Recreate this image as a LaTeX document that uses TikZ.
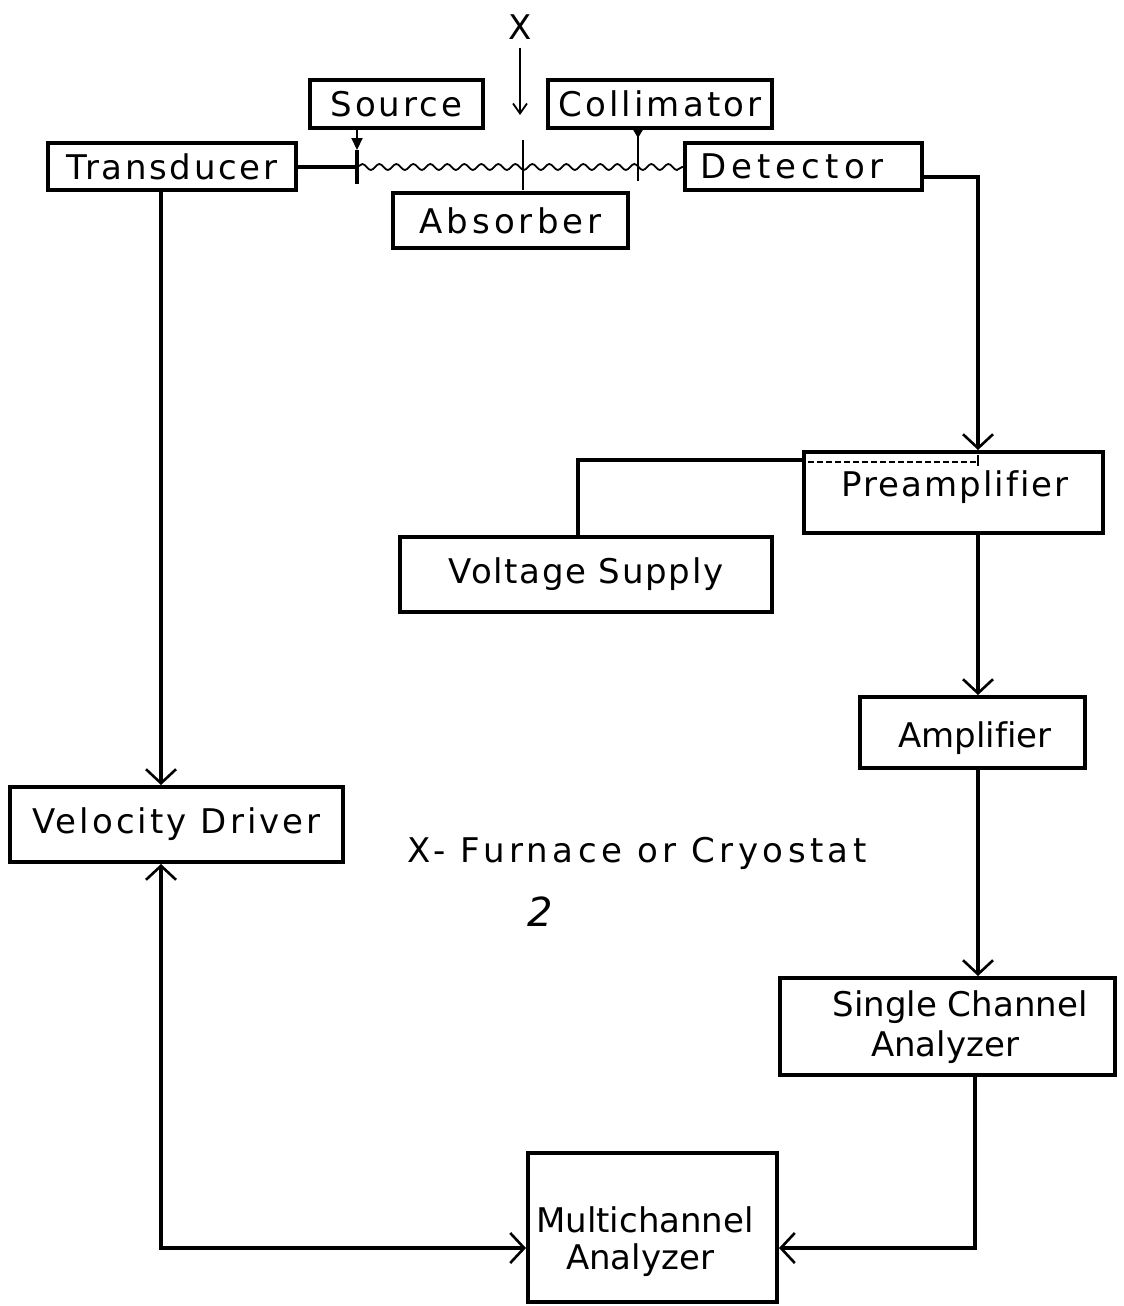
\documentclass[tikz,border=0pt]{standalone}
\usepackage{fontspec}
\setmainfont{DejaVu Sans}[Ligatures={NoCommon}]
\newcommand{\lsp}[1]{\addfontfeature{LetterSpace=#1}}
\usetikzlibrary{arrows.meta,decorations.pathmorphing,calc}
\begin{document}
\begin{tikzpicture}[x=1pt,y=-1pt,
  lbl/.style={font=\fontsize{34}{40}\selectfont, inner sep=0pt},
  box/.style={draw, line width=4pt, inner sep=0pt, font=\fontsize{34}{40}\selectfont, align=center},
  conn/.style={line width=4pt},
  tip/.style={-{Straight Barb[length=14pt,width=30pt,line width=2.6pt]}},
  dtip/.style={{Straight Barb[length=14pt,width=30pt,line width=2.6pt]}-{Straight Barb[length=14pt,width=30pt,line width=2.6pt]}}
]
\useasboundingbox (0,0) rectangle (1124,1306);
% boxes
\node[box, minimum width=248pt, minimum height=47pt] (tr) at (172,166.5) {\lsp{8}Transducer};
\node[box, minimum width=173pt, minimum height=48pt] (src) at (396.5,104) {\lsp{9}Source};
\node[box, minimum width=224pt, minimum height=48pt] (col) at (660,104) {\lsp{9}Collimator};
\node[box, minimum width=237pt, minimum height=47pt] (det) at (803.5,166.5) {};
\node[lbl] (dett) at (792,166) {\lsp{15}Detector};
\node[box, minimum width=235pt, minimum height=55pt] (abs) at (510.5,220.5) {\lsp{12}Absorber};
\node[box, minimum width=299pt, minimum height=81pt] (pre) at (953.5,492.5) {};
\node[lbl] (pret) at (955,487) {\lsp{6}Preamplifier};
\node[box, minimum width=372pt, minimum height=75pt] (vs) at (586,574.5) {\lsp{5}Voltage Supply};
\node[box, minimum width=225pt, minimum height=71pt] (amp) at (972.5,732.5) {};
\node[lbl] (ampt) at (975,738) {Amplifier};
\node[box, minimum width=335pt, minimum height=97pt] (sca) at (947.5,1026.5) {};
\node[lbl] (scat1) at (960,1007) {Single Channel};
\node[lbl] (scat2) at (945,1047) {Analyzer};
\node[box, minimum width=333pt, minimum height=75pt] (vd) at (176.5,824.5) {\lsp{9}Velocity Driver};
\node[box, minimum width=249pt, minimum height=149pt] (mca) at (652.5,1227.5) {};
\node[lbl] (mcat1) at (645,1220) {Multichannel};
\node[lbl] (mcat2) at (640,1260) {Analyzer};
% free texts
\node[lbl] (xlab) at (520,27) {X};
\node[lbl] (furn) at (637,853) {\lsp{13}X- Furnace or Cryostat};
\node[font=\fontsize{40}{40}\selectfont\itshape, inner sep=0pt] (pg) at (540,912) {2};
% helper coordinates
\coordinate (lx) at (161,0);
\coordinate (rx) at (978,0);
\coordinate (sx) at (357,0);
\coordinate (kx) at (638,0);
\coordinate (bm) at (0,167);
\coordinate (by) at (0,1248);
% X arrow
\draw[line width=1.8pt, -{Straight Barb[length=10pt,width=14pt,line width=1.8pt]}] (xlab.south) ++(0,8) -- (520,115);
% beam
\draw[conn] (tr.east |- bm) -- (sx |- bm);
\draw[line width=1.8pt, decorate, decoration={snake, amplitude=3pt, segment length=17pt}] (sx |- bm) -- (det.west |- bm);
\draw[line width=4pt] (357,150) -- (357,184);
\draw[line width=2.2pt, -{Triangle[length=12pt,width=11pt]}] (src.south -| sx) -- (357,150);
\draw[line width=2.2pt] (523,140) -- (523,190);
\draw[line width=2.2pt] (col.south -| kx) -- (638,181);
\fill (632,128) -- (644,128) -- (638,138) -- cycle;
% detector to preamp
\draw[conn, tip] (det.east |- 0,177) -| (rx |- pre.north);
\draw[line width=1.8pt, dashed, dash pattern=on 6pt off 3pt] (808,462) -- (978,462);
\draw[line width=1.8pt] (978,455) -- (978,466);
% voltage supply
\draw[conn] (vs.north -| 578,0) |- (pre.west |- 0,460);
% right chain
\draw[conn, tip] (rx |- pre.south) -- (rx |- amp.north);
\draw[conn, tip] (rx |- amp.south) -- (rx |- sca.north);
\draw[conn, tip] (sca.south -| 975,0) |- (mca.east |- by);
% left chain
\draw[conn, tip] (lx |- tr.south) -- (lx |- vd.north);
\draw[conn, dtip] (lx |- vd.south) |- (mca.west |- by);
\end{tikzpicture}
\end{document}
